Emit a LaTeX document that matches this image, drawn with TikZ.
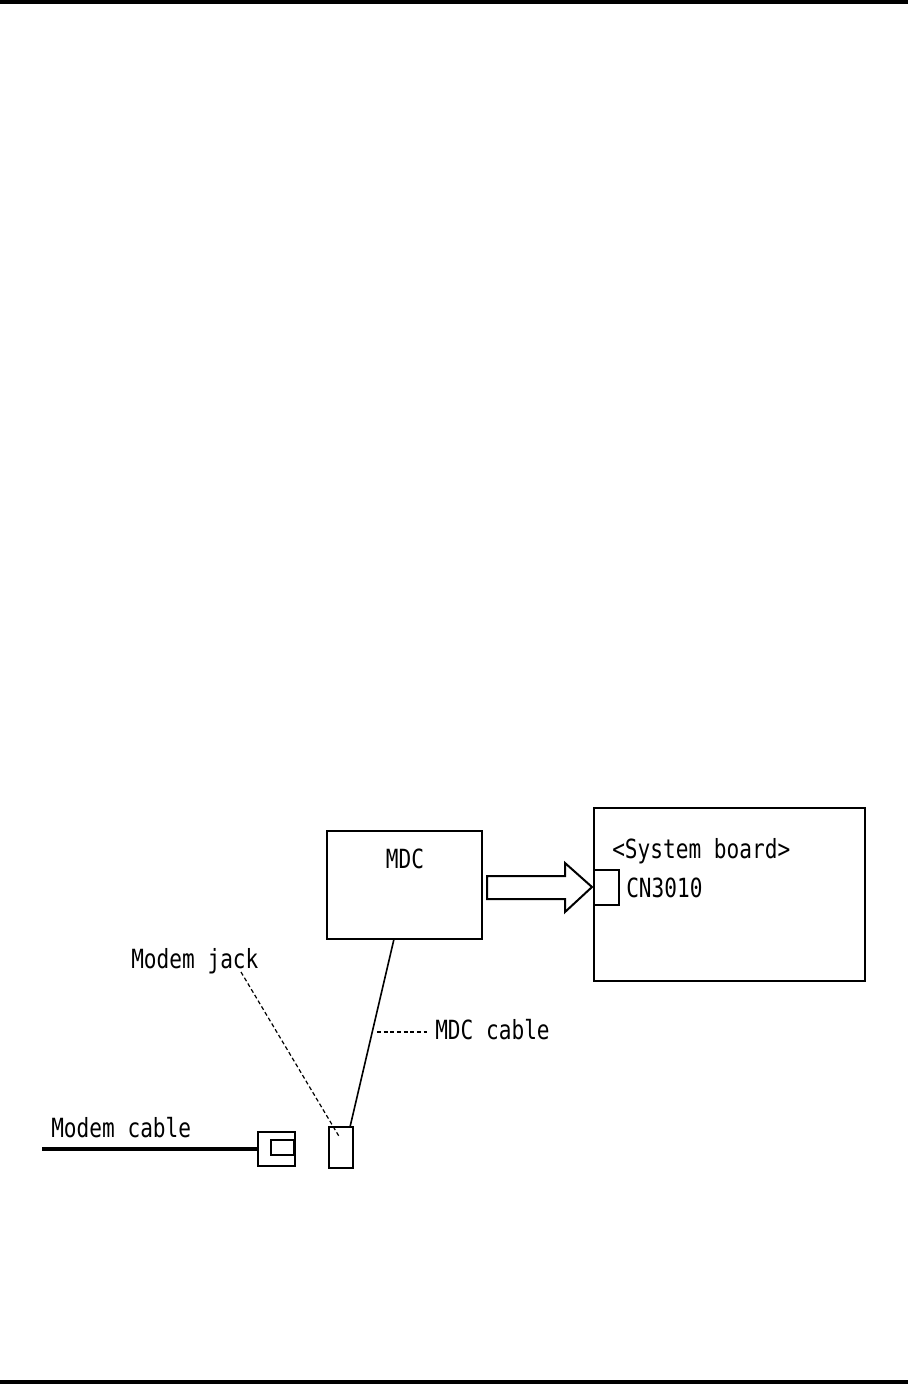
\documentclass[tikz,border=0pt]{standalone}
\usepackage{fontspec}
\usepackage{tikz}
\usetikzlibrary{positioning,calc}
\newfontfamily\gothic[FakeStretch=0.8]{DejaVu Sans Mono}

\begin{document}
\begin{tikzpicture}[
  x=0.75pt, y=-0.75pt,
  part/.style={draw, line width=1.5pt, inner sep=0pt, outer sep=0pt},
  lbl/.style={inner sep=0pt, font=\gothic\fontsize{19.8}{22}\selectfont, anchor=base west},
  wire/.style={line width=1.2pt},
  leader/.style={line width=0.9pt, dash pattern=on 3pt off 2pt},
  cable/.style={line width=3pt}
]
  \useasboundingbox (0,0) rectangle (908,1384);
  % page rules
  \fill (0,0) rectangle (908,4);
  \fill (0,1380) rectangle (908,1384);

  \node[part, minimum width=116.6pt, minimum height=81pt] (mdc) at (404.75,885) {};
  \node[lbl, anchor=base] (mdclbl) at (405,868) {MDC};
  \node[part, minimum width=203.6pt, minimum height=129.75pt] (sysb) at (729.25,894.5) {};
  \node[part, minimum width=19.1pt, minimum height=25.9pt] (cn) at (606.25,887.75) {};
  \node[lbl] (sysblbl) at (612,858) {<System board>};
  \node[lbl] (cnlbl) at (626,897) {CN3010};

  % block arrow MDC -> CN3010
  \draw[line width=1.5pt, line join=miter] (487,876) -- (565,876) -- (565,863) -- (592,887)
    -- (565,912) -- (565,899) -- (487,899) -- cycle;

  \node[part, minimum width=18pt, minimum height=30.75pt] (jack) at (341,1147.5) {};
  \node[part, minimum width=27.75pt, minimum height=25.5pt] (plug) at (276.5,1149) {};
  \node[part, minimum width=17.25pt, minimum height=11.25pt] (pluginner) at (282.75,1147.5) {};

  \node[lbl] (jacklbl) at (131,968) {Modem jack};
  \node[lbl] (mdccablelbl) at (435,1039) {MDC cable};
  \node[lbl] (cablelbl) at (51,1137) {Modem cable};

  \coordinate (cabletop) at (394,939);
  \coordinate (cablebot) at (350,1127);
  \coordinate (jacktip) at (241,972);
  \coordinate (jackpt) at (340,1138);
  \coordinate (cablemid) at (377,1032);
  \coordinate (cableend) at (42,1149);

  \draw[wire] (cabletop) -- (cablebot);
  \draw[leader] (jacktip) -- (jackpt);
  \draw[leader] (cablemid) -- ($(mdccablelbl.west |- cablemid)+(-8,0)$);
  \draw[cable] (cableend) -- (plug.west);
\end{tikzpicture}
\end{document}
